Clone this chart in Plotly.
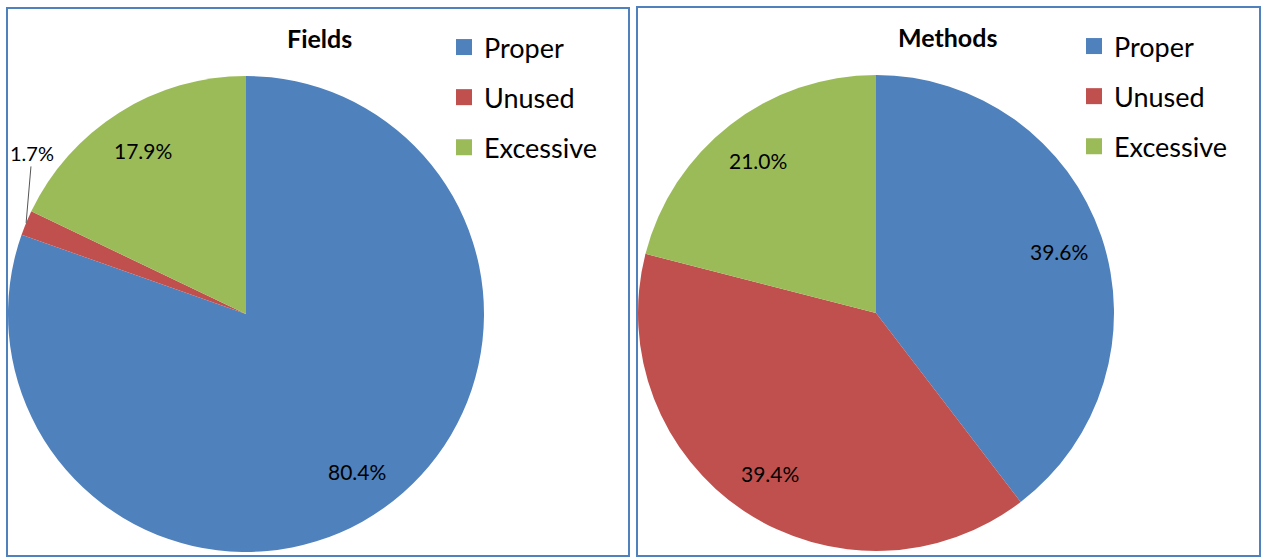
import math
import plotly.graph_objects as go

categories = ["Proper", "Unused", "Excessive"]
fields_values = [80.4, 1.7, 17.9]
methods_values = [39.6, 39.4, 21.0]
titles = ["Fields", "Methods"]
colors = ["#4F81BD", "#C0504D", "#9BBB59"]

W, H = 1263, 557
FONT = "Lato"
LABEL_SIZE = 21


def px_x(v):
    return v / W


def px_y(v):
    return 1 - v / H


# pie domains in pixels (left, top, right, bottom)
pies = [
    dict(values=fields_values, box=(8, 76, 484, 552), legend="legend", outside=[1]),
    dict(values=methods_values, box=(638, 75, 1114, 551), legend="legend2", outside=[]),
]

fig = go.Figure()
for p in pies:
    l, t, r, b = p["box"]
    fig.add_trace(go.Pie(
        labels=categories, values=p["values"], sort=False, direction="clockwise",
        rotation=0, marker=dict(colors=colors, line=dict(width=0)),
        textinfo="none", showlegend=False,
        domain=dict(x=[px_x(l), px_x(r)], y=[px_y(b), px_y(t)]),
        hoverinfo="label+percent",
    ))
    # data labels placed along each slice's mid angle
    cx, cy = (l + r) / 2, (t + b) / 2
    R = min(r - l, b - t) / 2
    total = sum(p["values"])
    cum = 0.0
    for i, v in enumerate(p["values"]):
        mid = (cum + v / 2) / total * 2 * math.pi
        cum += v
        text = f"{v / total * 100:.1f}%"
        if i in p["outside"]:
            ex, ey = cx + R * math.sin(mid), cy - R * math.cos(mid)
            fig.add_annotation(
                text=text, x=px_x(ex), y=px_y(ey), xref="paper", yref="paper",
                showarrow=True, arrowhead=0, arrowwidth=1, arrowcolor="#555555",
                ax=6, ay=-70, standoff=0,
                font=dict(family=FONT, size=LABEL_SIZE - 1, color="black"),
            )
        else:
            rr = 0.81 * R
            fig.add_annotation(
                text=text, x=px_x(cx + rr * math.sin(mid)), y=px_y(cy - rr * math.cos(mid)),
                xref="paper", yref="paper", showarrow=False,
                xanchor="center", yanchor="middle",
                font=dict(family=FONT, size=LABEL_SIZE, color="black"),
            )

# legend entries (one per category, per legend)
for leg in ["legend", "legend2"]:
    for name, c in zip(categories, colors):
        fig.add_trace(go.Scatter(
            x=[None], y=[None], mode="markers", name=name,
            marker=dict(symbol="square", size=16, color=c),
            legend=leg, legendgroup=leg + name, showlegend=True,
        ))

border = "#4F81BD"
fig.add_shape(type="rect", xref="paper", yref="paper",
              x0=px_x(7), x1=px_x(629), y0=px_y(556), y1=px_y(8),
              line=dict(color=border, width=2))
fig.add_shape(type="rect", xref="paper", yref="paper",
              x0=px_x(637), x1=px_x(1260), y0=px_y(556), y1=px_y(7),
              line=dict(color=border, width=2))

for title, (tx, ty) in zip(titles, [(319, 38), (948, 37)]):
    fig.add_annotation(text="<b>" + title + "</b>", x=px_x(tx), y=px_y(ty),
                       xref="paper", yref="paper", showarrow=False,
                       xanchor="center", yanchor="middle",
                       font=dict(family=FONT, size=25, color="black"))

legend_style = dict(font=dict(family=FONT, size=27, color="black"),
                    bgcolor="rgba(0,0,0,0)", xanchor="left", yanchor="top",
                    tracegroupgap=12)
fig.update_layout(
    width=W, height=H, margin=dict(l=0, r=0, t=0, b=0, autoexpand=False),
    paper_bgcolor="white", plot_bgcolor="white",
    xaxis=dict(visible=False), yaxis=dict(visible=False),
    legend=dict(x=px_x(444), y=px_y(23), **legend_style),
    legend2=dict(x=px_x(1074), y=px_y(22), **legend_style),
    showlegend=True,
)

fig.write_html("out.html")
